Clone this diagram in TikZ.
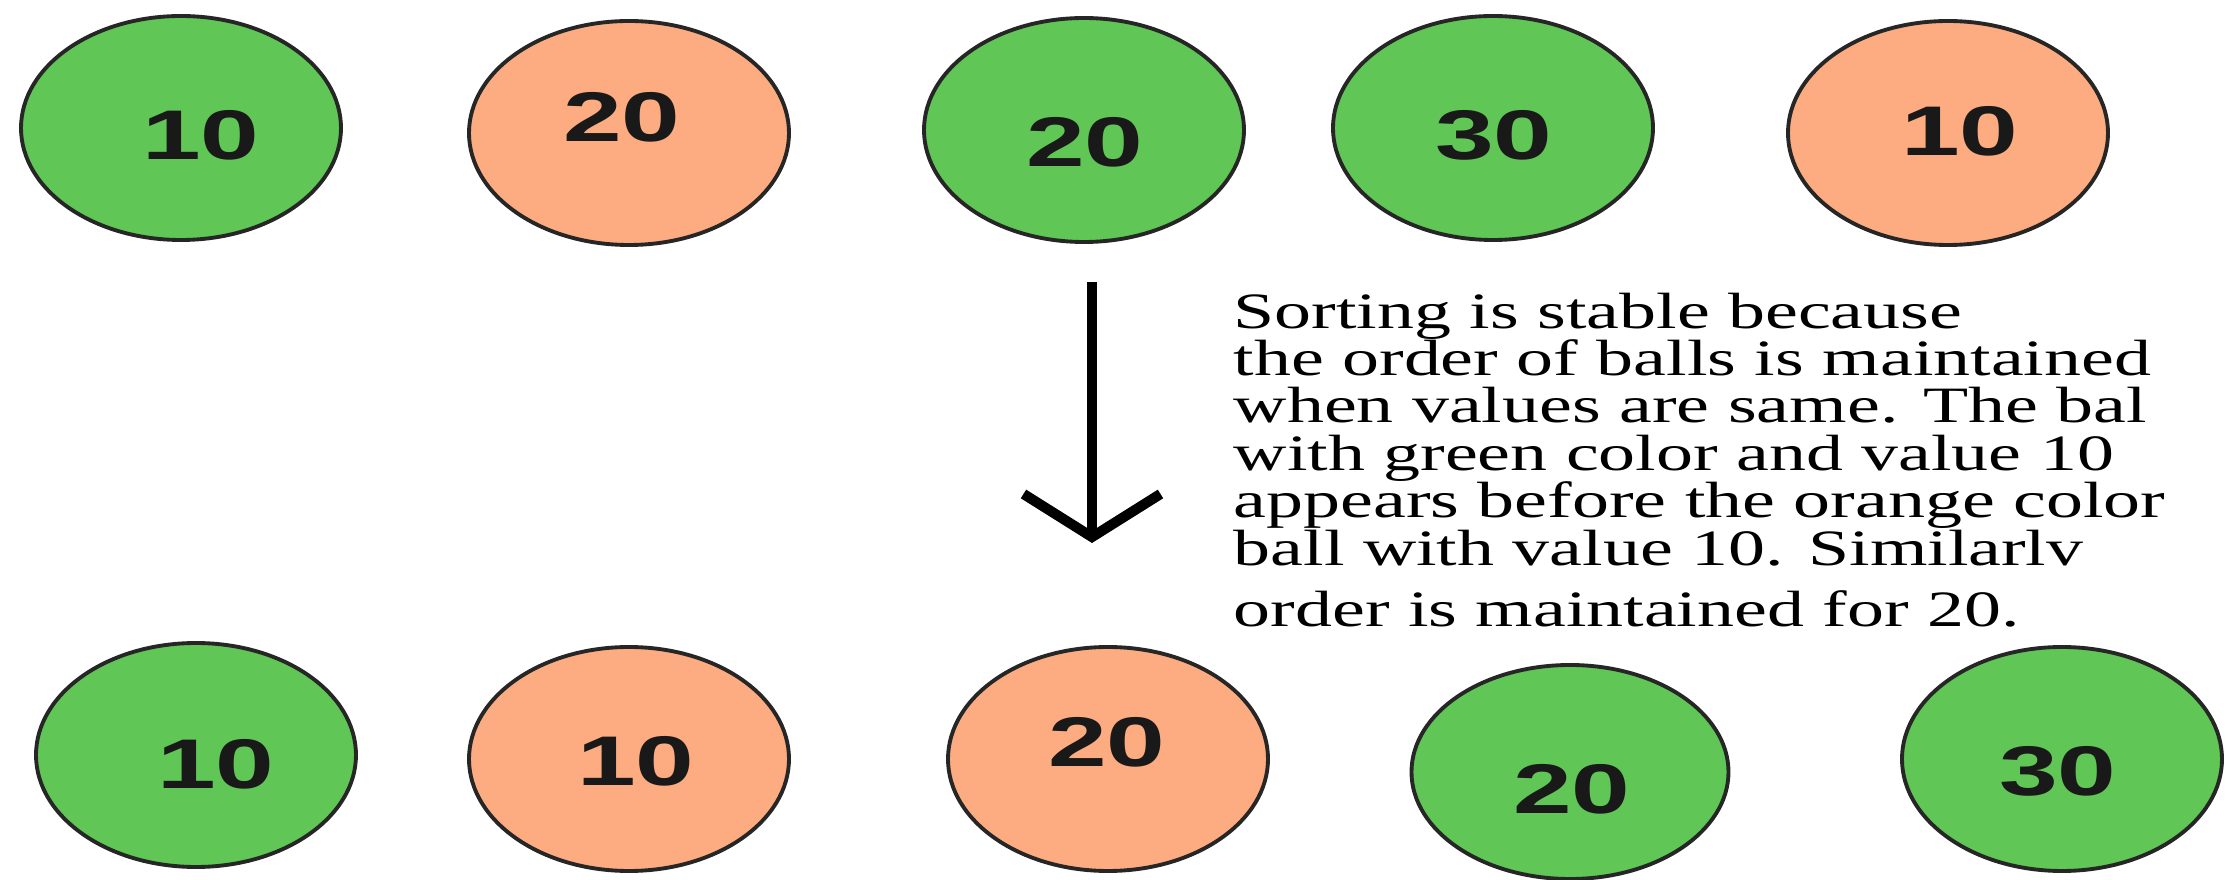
\documentclass[tikz,border=0pt]{standalone}
\usepackage{fontspec}
\usepackage{xcolor}
\usetikzlibrary{arrows.meta,shapes.geometric}

\newfontfamily\ballfont[FakeStretch=1.5]{Liberation Sans}
\newfontfamily\notefont[FakeStretch=1.45]{Liberation Serif}

\definecolor{ballgreen}{RGB}{96,198,86}
\definecolor{ballorange}{RGB}{252,172,128}

\tikzset{
  ball/.style={ellipse, draw=black!85, line width=1.1pt, minimum width=3.2cm, minimum height=2.24cm, inner sep=0pt},
  greenball/.style={ball, fill=ballgreen},
  orangeball/.style={ball, fill=ballorange},
  num/.style={font=\ballfont\bfseries\fontsize{20}{24}\selectfont, text=black!90, inner sep=0pt},
  note/.style={font=\notefont\fontsize{14.5}{13.5}\selectfont, align=left, inner sep=0pt}
}

\begin{document}
\begin{tikzpicture}
    \useasboundingbox (0,0) rectangle (22.3,8.8);

    % unsorted balls
    \node[greenball] (t1) at (1.81,7.52) {};
    \node[num] (t1n) at (2.01,7.45) {10};

    \node[orangeball] (t2) at (6.29,7.47) {};
    \node[num] (t2n) at (6.22,7.63) {20};

    \node[greenball] (t3) at (10.84,7.50) {};
    \node[num] (t3n) at (10.85,7.38) {20};

    \node[greenball] (t4) at (14.93,7.52) {};
    \node[num] (t4n) at (14.94,7.45) {30};

    \node[orangeball] (t5) at (19.48,7.47) {};
    \node[num] (t5n) at (19.60,7.49) {10};

    % sorting step
    \coordinate (from) at (10.92,5.98);
    \coordinate (to) at (10.92,3.37);
    \draw[line width=2.9pt, -{Straight Barb[length=4.3mm,width=13.7mm]}] (from) -- (to);

    \node[note, anchor=north west] (why) at (12.33,5.88) {Sorting is stable because\\
        the order of balls is maintained\\
        when values are same. The bal\\
        with green color and value 10\\
        appears before the orange color\\
        ball with value 10. Similarlv\\[4pt]
        order is maintained for 20.};

    % sorted balls
    \node[greenball] (s1) at (1.96,1.25) {};
    \node[num] (s1n) at (2.16,1.16) {10};

    \node[orangeball] (s2) at (6.29,1.21) {};
    \node[num] (s2n) at (6.36,1.19) {10};

    \node[orangeball] (s3) at (11.08,1.21) {};
    \node[num] (s3n) at (11.07,1.38) {20};

    \node[greenball, minimum width=3.17cm, minimum height=2.14cm] (s4) at (15.70,1.08) {};
    \node[num] (s4n) at (15.72,0.91) {20};

    \node[greenball] (s5) at (20.62,1.21) {};
    \node[num] (s5n) at (20.58,1.09) {30};
\end{tikzpicture}
\end{document}
